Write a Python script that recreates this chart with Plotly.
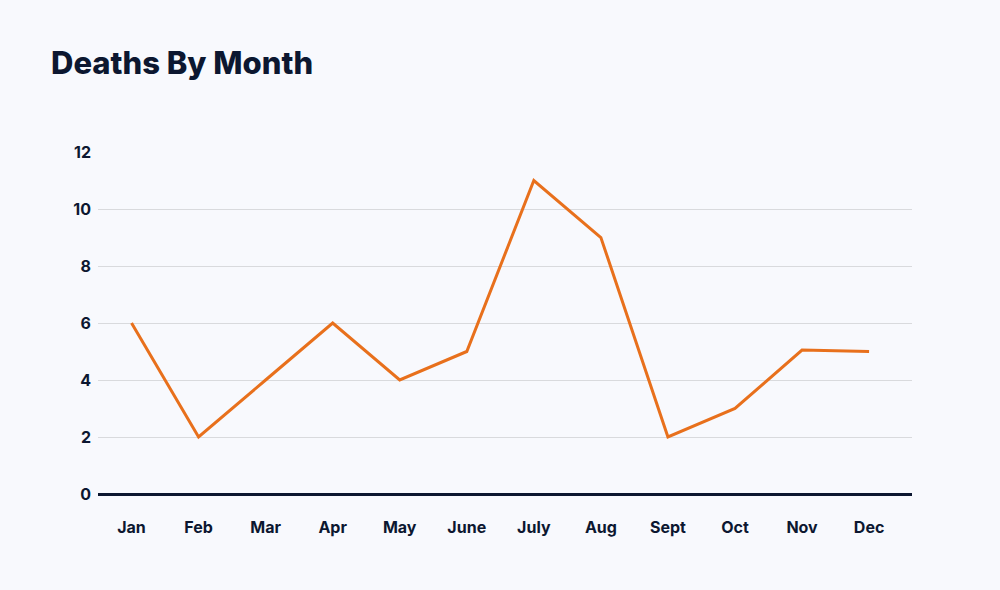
import plotly.graph_objects as go

months = ["Jan", "Feb", "Mar", "Apr", "May", "June", "July", "Aug", "Sept", "Oct", "Nov", "Dec"]
deaths = [6, 2, 4, 6, 4, 5, 11, 9, 2, 3, 5.05, 5]
y_ticks = [0, 2, 4, 6, 8, 10, 12]

BG = "#f8f9fd"
INK = "#0c1730"
ORANGE = "#e8701c"
FONT = "Inter, Lato, sans-serif"

fig = go.Figure()
fig.add_trace(go.Scatter(
    x=months, y=deaths, mode="lines",
    line=dict(color=ORANGE, width=3),
    hoverinfo="x+y",
))

fig.update_layout(
    width=1000, height=590,
    paper_bgcolor=BG, plot_bgcolor=BG,
    margin=dict(l=98, r=88, t=152, b=96),
    showlegend=False,
    title=dict(
        text="Deaths By Month",
        x=0.051, xanchor="left", xref="container",
        y=1 - 63 / 590, yanchor="middle", yref="container",
        font=dict(family=FONT, size=31, color=INK, weight=800),
    ),
    font=dict(family=FONT, color=INK),
)
fig.update_xaxes(
    type="category",
    range=[-0.5, 11.64],
    showgrid=False,
    showline=False,
    zeroline=False,
    ticks="",
    tickfont=dict(family=FONT, size=16, color=INK, weight=700),
    ticklabelstandoff=22,
)
fig.update_yaxes(
    range=[0, 12],
    tickvals=y_ticks,
    showgrid=True, gridcolor="#d9dadd", gridwidth=1,
    zeroline=True, zerolinecolor=INK, zerolinewidth=3,
    showline=False,
    ticks="",
    tickfont=dict(family=FONT, size=16, color=INK, weight=700),
    ticklabelstandoff=6,
)

fig.write_html(
    "out.html",
    config={"displayModeBar": False},
    post_script="document.body.style.margin='0';document.body.style.background='%s';" % BG,
)
